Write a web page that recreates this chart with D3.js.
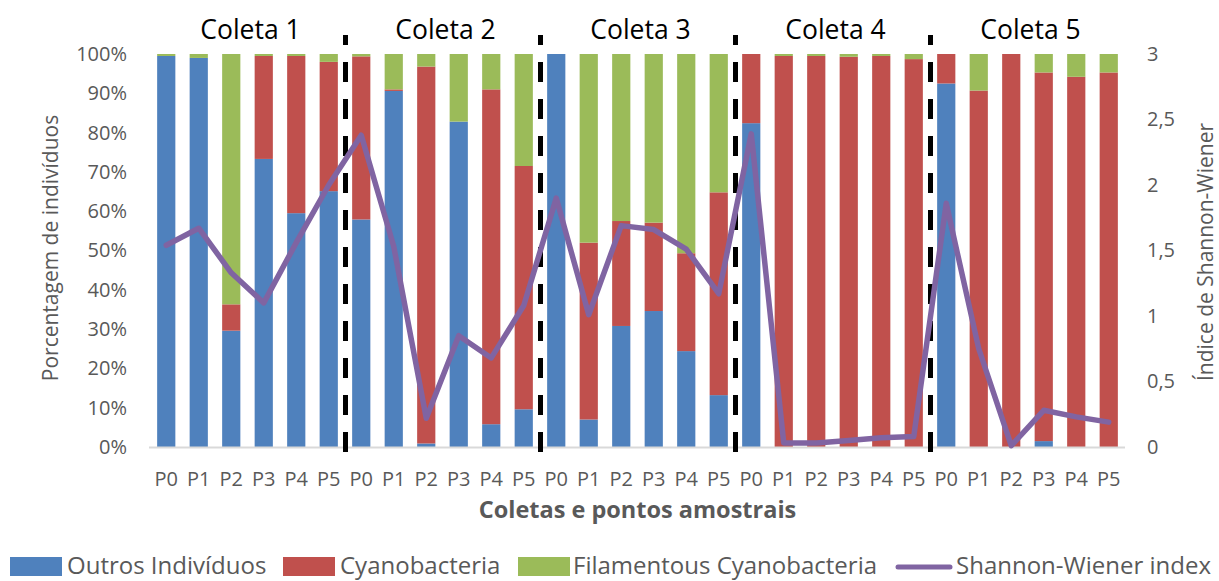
<!DOCTYPE html>
<html>
<head>
<meta charset="utf-8">
<script src="https://cdn.jsdelivr.net/npm/d3@7"></script>
<style>
  html, body { margin: 0; padding: 0; background: #fff; }
  svg { display: block; font-family: "Open Sans", "DejaVu Sans", sans-serif; }
</style>
</head>
<body>
<svg id="chart" width="1219" height="581"></svg>
<script>
// Collections and sampling points
const coletas = ["Coleta 1", "Coleta 2", "Coleta 3", "Coleta 4", "Coleta 5"];
const pontos = ["P0", "P1", "P2", "P3", "P4", "P5"];

// Share of individuals per point (%), in order Coleta 1 P0..P5, Coleta 2 P0..P5, ...
const outrosIndividuos = [
  99.5, 99.0, 29.6, 73.3, 59.5, 65.1,
  57.9, 90.6, 0.9, 82.8, 5.8, 9.6,
  100, 7.0, 30.8, 34.6, 24.4, 13.2,
  82.4, 0, 0, 0, 0, 0,
  92.5, 0, 0, 1.5, 0, 0
];
const cyanobacteria = [
  0, 0, 6.7, 26.2, 40.0, 32.9,
  41.5, 0.4, 95.9, 0, 85.2, 61.9,
  0, 45.0, 26.7, 22.5, 24.9, 51.6,
  17.6, 99.5, 99.5, 99.3, 99.5, 98.7,
  7.5, 90.7, 100, 93.8, 94.2, 95.3
];
const filamentous = [
  0.5, 1.0, 63.7, 0.5, 0.5, 2.0,
  0.6, 9.0, 3.2, 17.2, 9.0, 28.5,
  0, 48.0, 42.5, 42.9, 50.7, 35.2,
  0, 0.5, 0.5, 0.7, 0.5, 1.3,
  0, 9.3, 0, 4.7, 5.8, 4.7
];
// Shannon-Wiener diversity index per point
const shannon = [
  1.54, 1.67, 1.33, 1.10, 1.56, 2.00,
  2.38, 1.53, 0.22, 0.85, 0.68, 1.08,
  1.90, 1.01, 1.69, 1.66, 1.51, 1.17,
  2.39, 0.03, 0.03, 0.05, 0.07, 0.08,
  1.86, 0.75, 0.01, 0.28, 0.23, 0.19
];

const pctTicks = [0, 10, 20, 30, 40, 50, 60, 70, 80, 90, 100];
const indexTicks = [0, 0.5, 1, 1.5, 2, 2.5, 3];

const seriesNames = ["Outros Indivíduos", "Cyanobacteria", "Filamentous Cyanobacteria"];
const seriesKeys = ["outros", "cyano", "filam"];
const colors = { outros: "#4F81BD", cyano: "#C0504D", filam: "#9BBB59", line: "#8064A2" };

// Build the row table: one row per collection/point pair
const rows = [];
coletas.forEach((c, ci) => pontos.forEach((p, pi) => {
  const i = ci * pontos.length + pi;
  rows.push({
    key: c + "|" + p, coleta: c, ponto: p,
    outros: outrosIndividuos[i], cyano: cyanobacteria[i], filam: filamentous[i],
    h: shannon[i]
  });
}));

const svg = d3.select("#chart");
const plotLeft = 150, plotRight = 1125, plotTop = 54, plotBottom = 447;

const x = d3.scaleBand().domain(rows.map(d => d.key)).range([plotLeft, plotRight])
  .paddingInner(0.44).paddingOuter(0.22);
const y = d3.scaleLinear().domain([0, 100]).range([plotBottom, plotTop]);
const y2 = d3.scaleLinear().domain([0, 3]).range([plotBottom, plotTop]);

// Stacked bars
const stacked = d3.stack().keys(seriesKeys)(rows);
svg.append("g").selectAll("g").data(stacked).join("g")
  .attr("fill", s => colors[s.key])
  .selectAll("rect").data(s => s.map(v => ({ v, key: v.data.key })))
  .join("rect")
  .attr("x", d => x(d.key))
  .attr("width", x.bandwidth())
  .attr("y", d => y(d.v[1]))
  .attr("height", d => Math.max(0, y(d.v[0]) - y(d.v[1])));

// Baseline
svg.append("line")
  .attr("x1", plotLeft - 1).attr("x2", plotRight).attr("y1", plotBottom + 0.5).attr("y2", plotBottom + 0.5)
  .attr("stroke", "#d9d9d9").attr("stroke-width", 2);

// Left axis (percent)
const axL = d3.axisLeft(y).tickValues(pctTicks).tickFormat(d => d + "%").tickSize(0).tickPadding(0);
const gL = svg.append("g").attr("transform", `translate(${plotLeft - 23},0)`).call(axL);
gL.select(".domain").remove();
gL.selectAll("text").attr("font-size", 20).attr("fill", "#595959")
  .attr("font-family", "Open Sans, sans-serif");

// Right axis (Shannon-Wiener index)
const axR = d3.axisRight(y2).tickValues(indexTicks)
  .tickFormat(d => String(d).replace(".", ",")).tickSize(0).tickPadding(0);
const gR = svg.append("g").attr("transform", `translate(${plotRight + 22},0)`).call(axR);
gR.select(".domain").remove();
gR.selectAll("text").attr("font-size", 20).attr("fill", "#595959")
  .attr("font-family", "Open Sans, sans-serif");

// Bottom axis (point labels)
const axB = d3.axisBottom(x).tickFormat(k => k.split("|")[1]).tickSize(0).tickPadding(0);
const gB = svg.append("g").attr("transform", `translate(0,${plotBottom + 25})`).call(axB);
gB.select(".domain").remove();
gB.selectAll("text").attr("font-size", 20).attr("fill", "#595959")
  .attr("font-family", "Open Sans, sans-serif").attr("dy", "0.71em");

// Dashed separators between collections
const step = x.step();
const seps = coletas.slice(1).map(c => x(c + "|P0") - (step - x.bandwidth()) / 2);
svg.append("g").selectAll("line").data(seps).join("line")
  .attr("x1", d => d + 0.5).attr("x2", d => d + 0.5)
  .attr("y1", 452).attr("y2", 35)
  .attr("stroke", "#000").attr("stroke-width", 5)
  .attr("stroke-dasharray", "20,17");

// Shannon-Wiener line
const line = d3.line().x(d => x(d.key) + x.bandwidth() / 2).y(d => y2(d.h));
svg.append("path").datum(rows)
  .attr("fill", "none").attr("stroke", colors.line).attr("stroke-width", 5.5)
  .attr("stroke-linejoin", "round").attr("stroke-linecap", "round")
  .attr("d", line);

// Collection titles
svg.append("g").selectAll("text").data(coletas).join("text")
  .attr("x", c => (x(c + "|P0") + x(c + "|P5") + x.bandwidth()) / 2 + 3)
  .attr("y", 39)
  .attr("text-anchor", "middle").attr("font-size", 26.5).attr("fill", "#000")
  .text(c => c);

// Axis titles
svg.append("text")
  .attr("transform", "translate(58,248) rotate(-90)")
  .attr("text-anchor", "middle").attr("font-size", 21).attr("fill", "#595959")
  .text("Porcentagem de indivíduos");
svg.append("text")
  .attr("transform", "translate(1213,252) rotate(-90)")
  .attr("text-anchor", "middle").attr("font-size", 21).attr("fill", "#595959")
  .text("Índice de Shannon-Wiener");
svg.append("text")
  .attr("x", (plotLeft + plotRight) / 2).attr("y", 518)
  .attr("text-anchor", "middle").attr("font-size", 23.5).attr("font-weight", "bold")
  .attr("fill", "#595959")
  .text("Coletas e pontos amostrais");

// Legend
const legend = svg.append("g").attr("font-size", 24).attr("fill", "#595959");
const legendItems = [
  { name: seriesNames[0], key: "outros", sx: 10, tx: 67 },
  { name: seriesNames[1], key: "cyano", sx: 283, tx: 340 },
  { name: seriesNames[2], key: "filam", sx: 518, tx: 573 }
];
legendItems.forEach(it => {
  legend.append("rect").attr("x", it.sx).attr("y", 557).attr("width", 52).attr("height", 19)
    .attr("fill", colors[it.key]);
  legend.append("text").attr("x", it.tx).attr("y", 574).text(it.name);
});
legend.append("line").attr("x1", 898).attr("x2", 950).attr("y1", 567).attr("y2", 567)
  .attr("stroke", colors.line).attr("stroke-width", 5).attr("stroke-linecap", "round");
legend.append("text").attr("x", 956).attr("y", 574).text("Shannon-Wiener index");
</script>
</body>
</html>
